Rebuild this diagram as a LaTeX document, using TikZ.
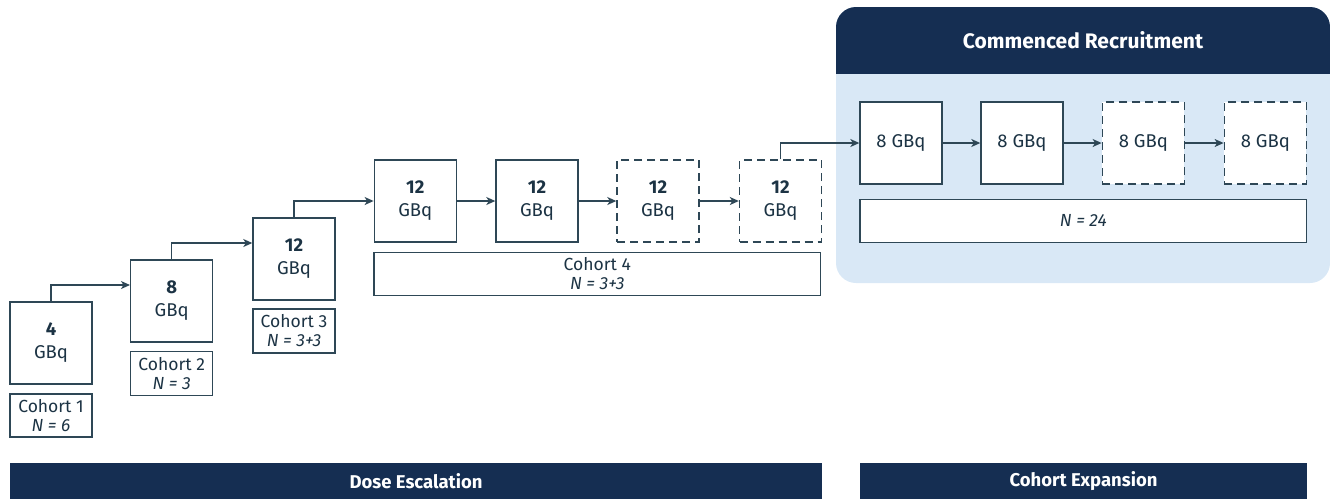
\documentclass[tikz,border=0pt]{standalone}
\usepackage{fontspec}
\setmainfont{Fira Sans}
\usetikzlibrary{arrows.meta}
\definecolor{navy}{HTML}{152E52}
\definecolor{ink}{HTML}{1C3344}
\definecolor{edge}{HTML}{2E4756}
\definecolor{paleblue}{HTML}{D9E8F6}
\begin{document}
\begin{tikzpicture}[x=1pt,y=-1pt,
    dose/.style={draw=edge,line width=1.4pt,fill=white,text=ink,
      minimum width=82pt,minimum height=82pt,align=center,inner sep=0pt,
      font=\fontsize{18.5}{23}\selectfont},
    doseopen/.style={dose,dash pattern=on 8pt off 5pt},
    cohortbox/.style={draw=edge,line width=1.4pt,fill=white,text=ink,
      minimum width=82pt,minimum height=43pt,align=center,inner sep=0pt,
      font=\fontsize{17.5}{19}\selectfont},
    phase/.style={fill=navy,text=white,minimum height=36pt,inner sep=0pt,
      font=\bfseries\fontsize{18.5}{20}\selectfont},
    link/.style={draw=edge,line width=1.3pt,-{Stealth[length=9pt,width=8pt,inset=2.5pt]}}]
  \useasboundingbox (0,0) rectangle (1330,499);

  % expansion panel
  \fill[paleblue,rounded corners=20pt] (836,7) rectangle (1330,283);
  \begin{scope}
    \clip[rounded corners=20pt] (836,7) rectangle (1330,283);
    \fill[navy] (836,7) rectangle (1330,74);
  \end{scope}
  \node[text=white,font=\bfseries\fontsize{21}{24}\selectfont] (recruit) at (1083,40) {Commenced Recruitment};

  % dose escalation staircase
  \node[dose] (b1) at (51,343) {\textbf{4}\\GBq};
  \node[cohortbox] (c1) at (51,415.5) {Cohort 1\\\textit{N = 6}};
  \node[dose] (b2) at (171.7,301) {\textbf{8}\\GBq};
  \node[cohortbox,minimum height=44pt] (c2) at (171.7,373.3) {Cohort 2\\\textit{N = 3}};
  \node[dose] (b3) at (294,259) {\textbf{12}\\GBq};
  \node[cohortbox,minimum height=44pt] (c3) at (294,331) {Cohort 3\\\textit{N = 3+3}};
  \node[dose] (b4) at (415.3,201) {\textbf{12}\\GBq};
  \node[dose] (b5) at (537,201) {\textbf{12}\\GBq};
  \node[doseopen] (b6) at (658,201) {\textbf{12}\\GBq};
  \node[doseopen] (b7) at (780.5,201) {\textbf{12}\\GBq};
  \node[cohortbox,minimum width=446.7pt] (c4) at (597.3,273.7) {Cohort 4\\\textit{N = 3+3}};

  % expansion doses
  \node[dose] (e1) at (901,143) {8 GBq};
  \node[dose] (e2) at (1022,143) {8 GBq};
  \node[doseopen] (e3) at (1143.3,143) {8 GBq};
  \node[doseopen] (e4) at (1265.3,143) {8 GBq};
  \node[cohortbox,minimum width=446.7pt] (c5) at (1083.3,220.8) {\textit{N = 24}};

  % connectors
  \draw[link] (b1.north) |- ([yshift=16pt]b2.west);
  \draw[link] (b2.north) |- ([yshift=16pt]b3.west);
  \draw[link] (b3.north) |- (b4.west);
  \draw[link] (b4) -- (b5);
  \draw[link] (b5) -- (b6);
  \draw[link] (b6) -- (b7);
  \draw[link] (b7.north) |- (e1.west);
  \draw[link] (e1) -- (e2);
  \draw[link] (e2) -- (e3);
  \draw[link] (e3) -- (e4);

  % phase bars
  \node[phase,minimum width=812pt] (escalation) at (416,481) {Dose Escalation};
  \node[phase,minimum width=447pt] (expansion) at (1083.5,481) {Cohort Expansion};
\end{tikzpicture}
\end{document}
